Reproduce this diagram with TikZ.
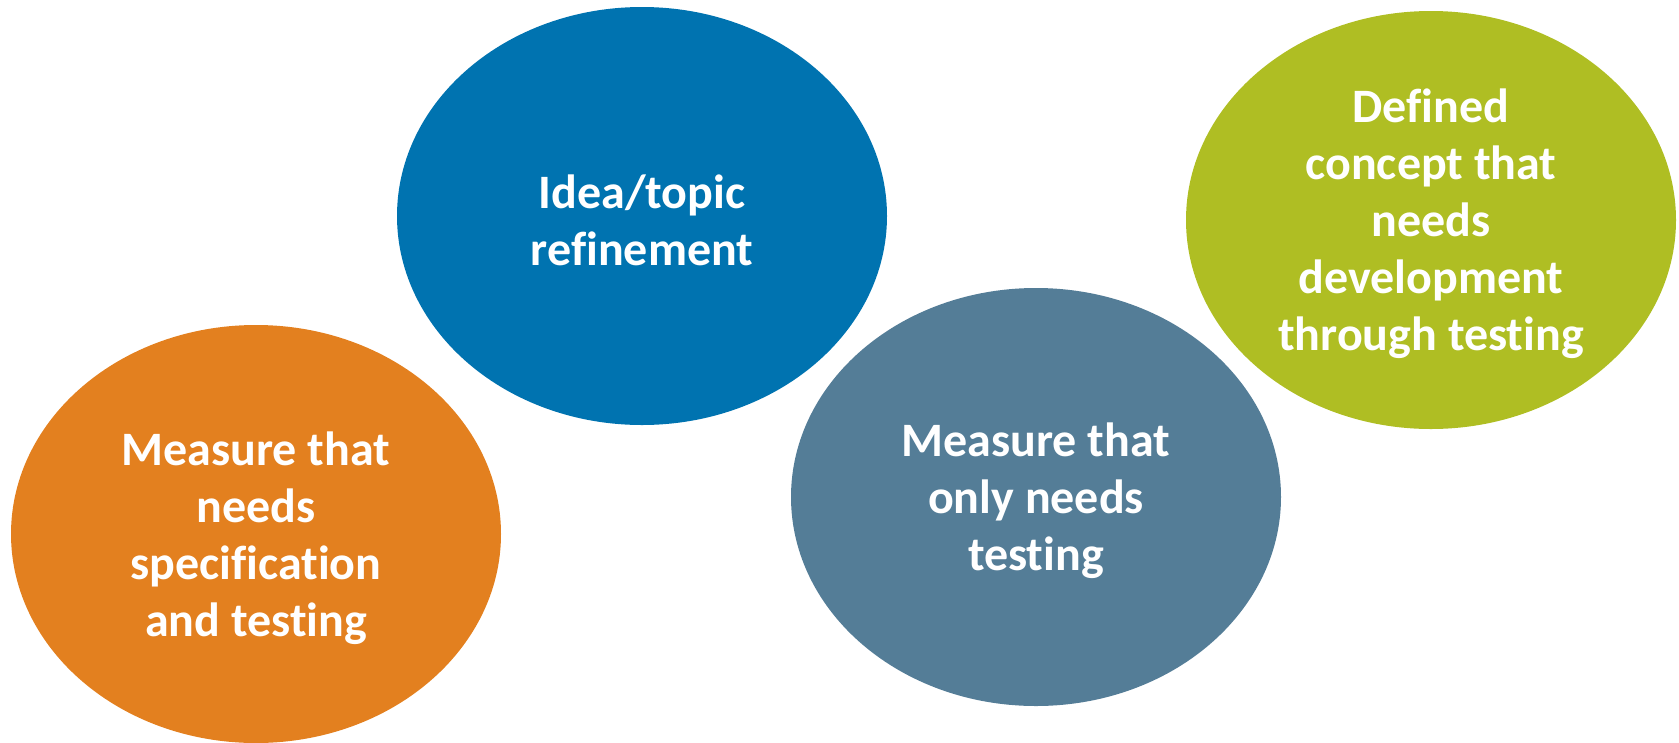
\documentclass[tikz,border=0pt]{standalone}
\usepackage{fontspec}
\setmainfont[Ligatures=NoCommon]{Carlito}
\usetikzlibrary{shapes.geometric,positioning}

\definecolor{specorange}{RGB}{227,128,31}
\definecolor{ideablue}{RGB}{0,115,176}
\definecolor{testslate}{RGB}{84,125,151}
\definecolor{conceptgreen}{RGB}{175,190,35}

\begin{document}
\begin{tikzpicture}[x=1pt,y=-1pt,
                    every node/.style={ellipse, inner sep=0pt,
                                       minimum width=490pt, minimum height=418pt,
                                       text=white, align=center,
                                       font=\bfseries\fontsize{48}{57}\selectfont}]
  \useasboundingbox (0,0) rectangle (1679,742);
  % four stages, left to right
  \node[fill=specorange] (spec) at (256,534) {};
  \node[fill=ideablue] (idea) at (642,216) {};
  \node[fill=testslate] (test) at (1036,497) {};
  \node[fill=conceptgreen] (concept) at (1431,220) {};
  % labels, set a little low as in the original
  \node[fill=none, yshift=-4pt] (spec-text) at (spec) {Measure that\\needs\\specification\\and testing};
  \node[fill=none, yshift=-4pt] (idea-text) at (idea) {Idea/topic\\refinement};
  \node[fill=none, yshift=-4pt] (test-text) at (test) {Measure that\\only needs\\testing};
  \node[fill=none, yshift=-4pt] (concept-text) at (concept) {Defined\\concept that\\needs\\development\\through testing};
\end{tikzpicture}
\end{document}
